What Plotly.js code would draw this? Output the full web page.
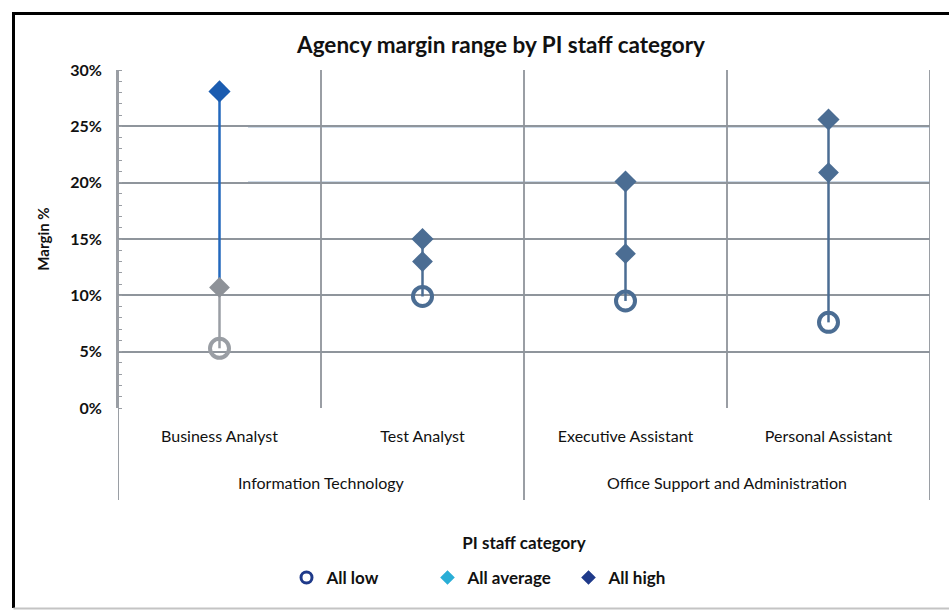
<!DOCTYPE html>
<html>
<head>
<meta charset="utf-8">
<script src="https://cdn.plot.ly/plotly-3.0.1.min.js"></script>
<style>
html,body{margin:0;padding:0;background:#fff;}
#chart{width:949px;height:610px;}
</style>
</head>
<body>
<div id="chart"></div>
<script>
// ---- data ----
const groups = ["Information Technology", "Information Technology", "Office Support and Administration", "Office Support and Administration"];
const categories = ["Business Analyst", "Test Analyst", "Executive Assistant", "Personal Assistant"];
const lowValues = [5.3, 9.9, 9.5, 7.6];
const avgValues = [10.7, 13.0, 13.7, 20.9];
const highValues = [28.1, 15.0, 20.1, 25.6];
const seriesNames = ["All low", "All average", "All high"];
const yTickVals = [0, 5, 10, 15, 20, 25, 30];

// ---- styles ----
const lowColors = ["#9a9ea4", "#4b6d93", "#4b6d93", "#4b6d93"];
const avgColors = ["#8e9298", "#4b6d93", "#4b6d93", "#4b6d93"];
const highColors = ["#1b5cb0", "#4b6d93", "#4b6d93", "#4b6d93"];
const lowerLineColors = ["#9a9ea4", "#4b6d93", "#4b6d93", "#4b6d93"];
const upperLineColors = ["#2368bd", "#4b6d93", "#4b6d93", "#4b6d93"];
const legendColors = ["#1f3a8a", "#2aaed6", "#1f3a8a"];
const GRID = "#9a9ea4";
const FONT = "Lato, 'Open Sans', sans-serif";

const idx = categories.map((c, i) => i);

const traces = [];
idx.forEach(i => {
  traces.push({type: "scatter", mode: "lines", x: [i, i], y: [lowValues[i], avgValues[i]],
    line: {color: lowerLineColors[i], width: 2.5}, showlegend: false, hoverinfo: "skip"});
  traces.push({type: "scatter", mode: "lines", x: [i, i], y: [avgValues[i], highValues[i]],
    line: {color: upperLineColors[i], width: 2.5}, showlegend: false, hoverinfo: "skip"});
});
traces.push({type: "scatter", mode: "markers", name: seriesNames[0], x: idx, y: lowValues, showlegend: false,
  marker: {symbol: "circle-open", size: 19, color: lowColors, line: {width: 4, color: lowColors}}});
traces.push({type: "scatter", mode: "markers", name: seriesNames[1], x: idx, y: avgValues, showlegend: false,
  marker: {symbol: "diamond", size: 16, color: avgColors}});
traces.push({type: "scatter", mode: "markers", name: seriesNames[2], x: idx, y: highValues, showlegend: false,
  marker: {symbol: "diamond", size: 17, color: highColors}});
// legend entries
const legendSymbols = ["circle-open", "diamond", "diamond"];
const legendSizes = [11, 8, 8];
seriesNames.forEach((n, k) => {
  traces.push({type: "scatter", mode: "markers", name: "<b>" + n + "</b>", x: [0], y: [null],
    marker: {symbol: legendSymbols[k], size: legendSizes[k], color: legendColors[k], line: {width: 3, color: legendColors[k]}}});
});

// plot area geometry (px)
const L = 118, R = 19, T = 70, B = 202, W = 949, H = 610;
const pw = W - L - R, ph = H - T - B;
const px = v => (v - L) / pw;
const py = v => (H - B - v) / ph;

// group spans
const groupNames = [...new Set(groups)];
const groupSpans = groupNames.map(g => {
  const ii = idx.filter(i => groups[i] === g);
  return {name: g, start: Math.min(...ii) - 0.5, end: Math.max(...ii) + 0.5};
});

const shapes = [];
// bluish gridlines in mid range
[15, 20, 25].forEach(v => shapes.push({type: "line", xref: "paper", yref: "y", x0: 0.16, x1: 1, y0: v, y1: v,
  line: {color: "#3f6d9e", width: 2}, layer: "between"}));
// group dividers extending into label area (and plot edges)
const bounds = [...new Set(groupSpans.flatMap(s => [s.start, s.end]))];
bounds.forEach(b => shapes.push({type: "line", xref: "x", yref: "paper", x0: b, x1: b, y0: py(500), y1: 1,
  line: {color: GRID, width: 2}, layer: "below"}));
// outer frame
shapes.push({type: "path", xref: "paper", yref: "paper",
  path: `M ${px(13.5)} ${py(608)} L ${px(13.5)} ${py(13.5)} L ${px(952)} ${py(13.5)}`,
  line: {color: "#000", width: 3}});
shapes.push({type: "line", xref: "paper", yref: "paper", x0: px(13.5), x1: px(952), y0: py(608.5), y1: py(608.5),
  line: {color: "#c4c4c4", width: 2}});

const annotations = groupSpans.map(s => ({
  text: s.name, xref: "x", yref: "paper", x: (s.start + s.end) / 2, y: py(483), yanchor: "middle",
  showarrow: false, font: {size: 16, family: FONT, color: "#111"}
}));

const layout = {
  width: W, height: H,
  margin: {l: L, r: R, t: T, b: B},
  paper_bgcolor: "#fff", plot_bgcolor: "#fff",
  font: {family: FONT, color: "#111"},
  title: {text: "<b>Agency margin range by PI staff category</b>", font: {size: 22.5, family: FONT, color: "#111"},
    xref: "container", x: 501 / W, xanchor: "center", y: 1 - 45 / H, yanchor: "middle"},
  xaxis: {
    range: [-0.5, categories.length - 0.5], tickvals: idx, ticktext: categories,
    showgrid: false, showline: false, zeroline: false, ticks: "",
    tickfont: {size: 16, family: FONT, color: "#111"}, ticklabelstandoff: 17,
    minor: {tick0: 0.5, dtick: 1, showgrid: true, gridcolor: GRID, gridwidth: 2, ticks: ""},
    title: {text: "<b>PI staff category</b>", font: {size: 17, family: FONT, color: "#111"}, standoff: 93},
    fixedrange: true
  },
  yaxis: {
    range: [0, 30], tickvals: yTickVals, ticktext: yTickVals.map(v => "<b>" + v + "%</b>"),
    showgrid: true, gridcolor: "#8f959c", gridwidth: 2,
    showline: true, linecolor: GRID, linewidth: 2, zeroline: false,
    ticks: "", tickfont: {size: 16, family: FONT, color: "#111"}, ticklabelstandoff: 11,
    minor: {dtick: 1, ticks: "inside", ticklen: 4, tickcolor: GRID, showgrid: false},
    title: {text: "<b>Margin %</b>", font: {size: 15, family: FONT, color: "#111"}, standoff: 17}
  },
  legend: {orientation: "h", x: px(498), xanchor: "center", y: py(578), yanchor: "middle",
    font: {size: 17, family: FONT, color: "#111"}, itemwidth: 30, entrywidth: 96, entrywidthmode: "pixels",
    tracegroupgap: 0, bgcolor: "rgba(0,0,0,0)"},
  shapes: shapes,
  annotations: annotations,
  showlegend: true
};

Plotly.newPlot("chart", traces, layout, {displayModeBar: false, staticPlot: true});
</script>
</body>
</html>
